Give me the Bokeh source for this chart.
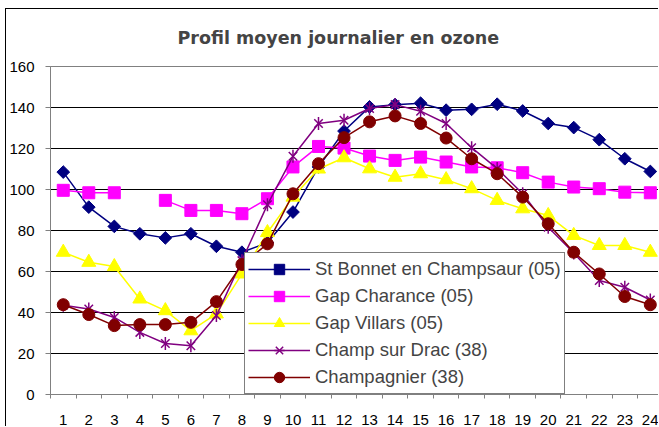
import math
from bokeh.plotting import figure
from bokeh.models import FixedTicker, Legend, LegendItem, Range1d, InlineStyleSheet
from bokeh.embed import file_html
from bokeh.resources import INLINE

nan = float("nan")

hours = list(range(1, 25))
y_ticks = [0, 20, 40, 60, 80, 100, 120, 140, 160]

title_text = "Profil moyen journalier en ozone"
series_names = [
    "St Bonnet en Champsaur (05)",
    "Gap Charance (05)",
    "Gap Villars (05)",
    "Champ sur Drac (38)",
    "Champagnier (38)",
]

st_bonnet = [108.5, 91.4, 82.0, 78.4, 76.4, 78.4, 72.3, 69.4, 74.0, 89.0, 111.0, 128.5,
             140.3, 141.4, 142.1, 138.7, 139.1, 141.6, 138.3, 132.2, 130.2, 124.3, 115.0, 108.8]
gap_charance = [99.6, 98.4, 98.4, nan, 94.7, 89.8, 89.8, 88.2, 95.5, 111.0, 121.0, 120.2,
                116.3, 114.2, 115.8, 113.4, 111.0, 110.6, 108.2, 103.6, 101.2, 100.4, 98.7, 98.4]
gap_villars = [69.4, 64.5, 62.4, 46.6, 40.9, 31.1, 39.3, 58.8, 79.0, 96.3, 110.0, 115.5,
               110.1, 106.0, 107.7, 104.8, 100.4, 94.7, 90.6, 87.3, 77.6, 72.7, 72.7, 69.4]
champ_drac = [43.5, 41.7, 37.6, 30.3, 24.9, 23.8, 38.5, 65.3, 92.6, 116.2, 132.2, 133.8,
              139.5, 141.4, 138.2, 132.2, 120.4, 110.2, 97.9, 81.6, 69.0, 55.6, 52.3, 46.1]
champagnier = [43.8, 39.0, 33.6, 34.1, 34.1, 35.2, 45.3, 63.4, 73.5, 97.9, 112.6, 125.3,
               133.0, 135.9, 132.2, 125.1, 115.0, 107.7, 96.3, 83.3, 69.4, 58.8, 47.8, 43.8]

p = figure(width=653, height=418, output_backend="svg", toolbar_location=None,
           x_range=Range1d(0.5, 24.36), y_range=Range1d(0, 160),
           min_border_left=41, min_border_right=0, min_border_top=57, min_border_bottom=33)

p.stylesheets = [InlineStyleSheet(css=":host { margin-left: 5px; margin-top: 8px; border-top: 1px solid black; border-left: 1px solid black; }")]

p.title.text = title_text
p.title.text_font = "DejaVu Sans"
p.title.text_font_style = "bold"
p.title.text_font_size = "17.5px"
p.title.align = "left"
p.title.vertical_align = "top"
p.title.offset = 127
p.title.standoff = 34

p.outline_line_color = "#808080"
p.xgrid.visible = False
p.ygrid.ticker = FixedTicker(ticks=y_ticks)
p.ygrid.grid_line_color = "black"
p.ygrid.grid_line_width = 1

p.xaxis.ticker = FixedTicker(ticks=hours, minor_ticks=[h - 0.5 for h in hours] + [24.5])
p.xaxis.major_tick_out = 0
p.xaxis.major_tick_in = 0
p.xaxis.minor_tick_out = 4
p.xaxis.minor_tick_in = 0
p.xaxis.major_label_standoff = 16

p.yaxis.ticker = FixedTicker(ticks=y_ticks)
p.yaxis.major_tick_out = 5
p.yaxis.major_tick_in = 0
p.yaxis.minor_tick_out = 0
p.yaxis.minor_tick_in = 0
p.yaxis.major_label_standoff = 11

for ax in (p.xaxis, p.yaxis):
    ax.axis_line_color = "#808080"
    ax.major_tick_line_color = "#808080"
    ax.minor_tick_line_color = "#808080"
    ax.major_label_text_font = "Liberation Sans"
    ax.major_label_text_font_size = "15px"
    ax.major_label_text_color = "black"

styles = [
    (st_bonnet, "#000080", [dict(marker="square", size=9, angle=math.pi / 4)]),
    (gap_charance, "#FF00FF", [dict(marker="square", size=12)]),
    (gap_villars, "#FFFF00", [dict(marker="triangle", size=14)]),
    (champ_drac, "#800080", [dict(marker="x", size=12, line_width=1.5),
                             dict(marker="dash", size=13, angle=math.pi / 2, line_width=1.5)]),
    (champagnier, "#800000", [dict(marker="circle", size=12)]),
]

items = []
for name, (vals, col, mks) in zip(series_names, styles):
    rs = [p.line(hours, vals, line_color=col, line_width=1.5)]
    for mk in mks:
        rs.append(p.scatter(hours, vals, fill_color=col, line_color=col, **mk))
    items.append(LegendItem(label=name, renderers=rs))

legend = Legend(items=items, location=(194, 0))
legend.border_line_color = "black"
legend.border_line_width = 1
legend.background_fill_color = "white"
legend.background_fill_alpha = 1
legend.label_text_font = "Liberation Sans"
legend.label_text_font_size = "18.5px"
legend.glyph_width = 62
legend.glyph_height = 26
legend.spacing = 1
legend.padding = 3
legend.label_standoff = 5
legend.margin = 0
p.add_layout(legend)

open("out.html", "w").write(file_html(p, INLINE))
